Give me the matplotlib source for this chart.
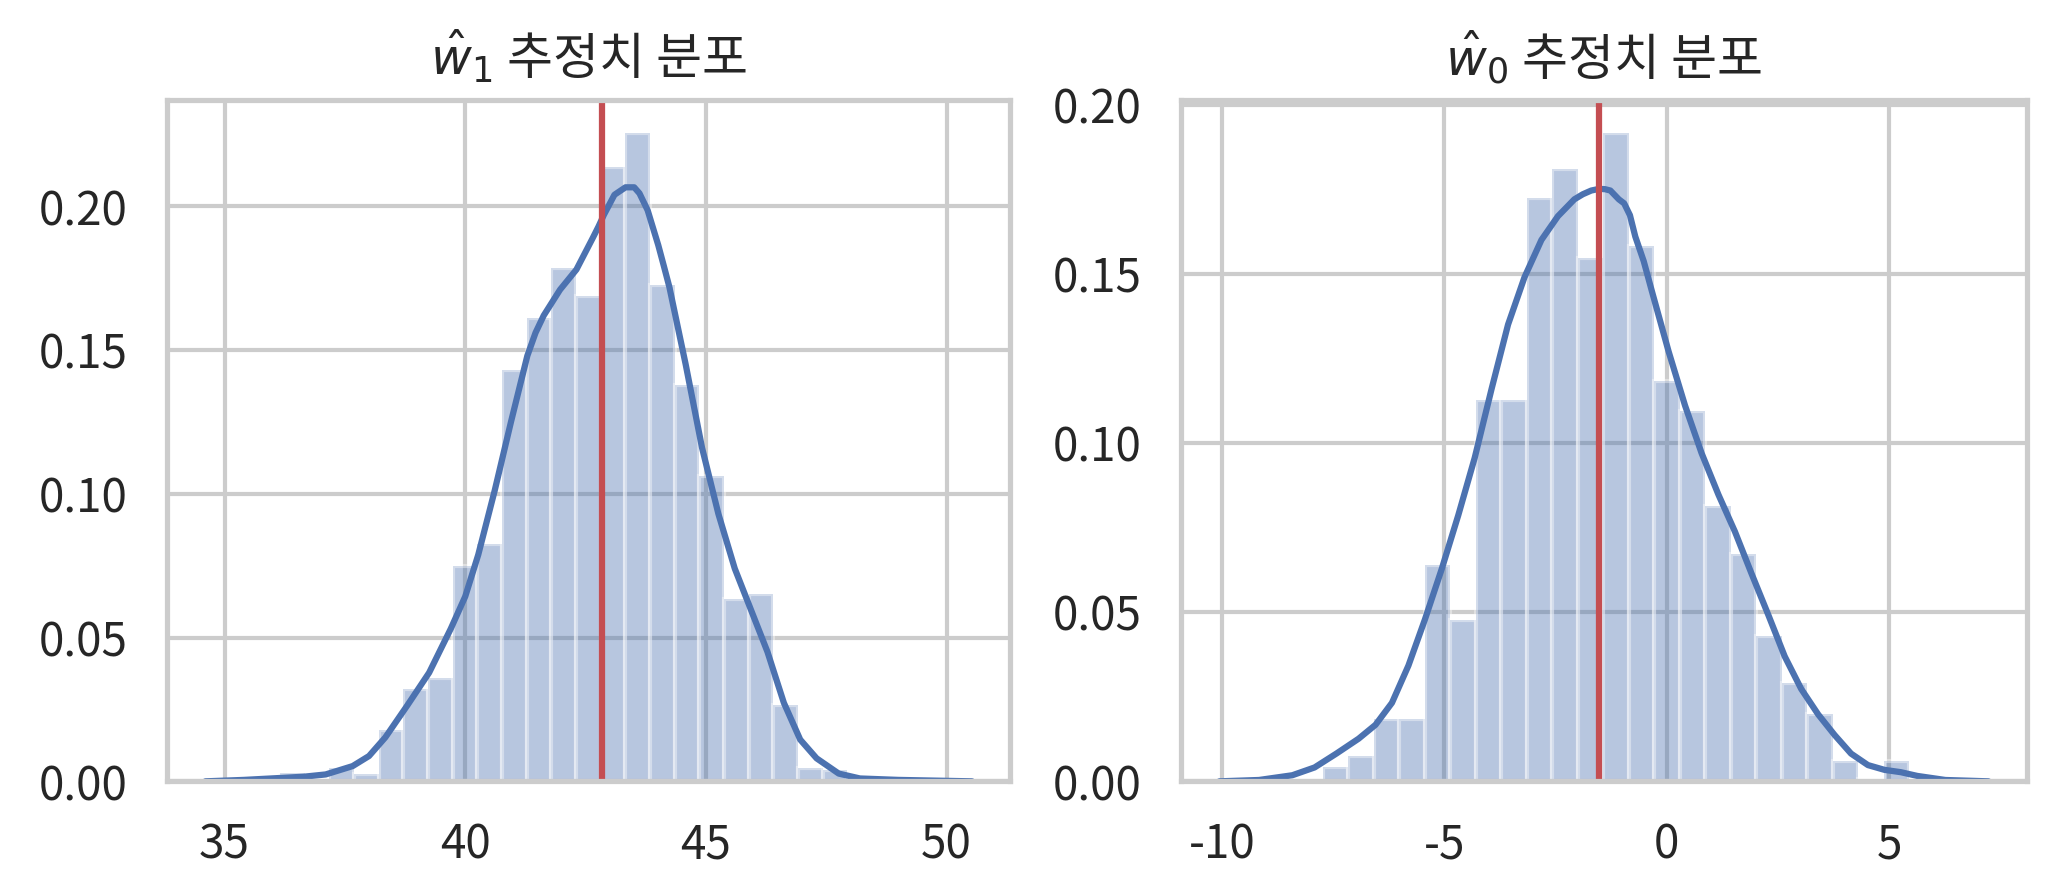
import matplotlib
matplotlib.use('Agg')
import matplotlib.pyplot as plt
import seaborn as sns
import numpy as np

sns.set_theme(style='whitegrid')
plt.rcParams['font.family'] = ['Noto Sans CJK KR', 'DejaVu Sans']
plt.rcParams['axes.unicode_minus'] = False

# w1 추정치 히스토그램 (density)
w1_bin_start = 36.15
w1_bin_width = 0.5125
w1_heights = [0.0029, 0.0, 0.0045, 0.0027, 0.018, 0.032, 0.036, 0.075, 0.0825,
              0.143, 0.161, 0.1785, 0.1687, 0.2135, 0.2256, 0.1727, 0.1378,
              0.1063, 0.0635, 0.0651, 0.0265, 0.0047, 0.004]
w1_kde_x = [34.6, 35.4, 36.64, 37.1, 37.66, 38.0, 38.34, 38.8, 39.25, 39.7, 40.0,
            40.27, 40.61, 40.95, 41.29, 41.46, 41.63, 41.97, 42.31, 42.65, 42.77,
            42.88, 43.1, 43.33, 43.51, 43.62, 43.79, 44.01, 44.13, 44.24, 44.58,
            44.92, 45.26, 45.6, 45.94, 46.28, 46.62, 46.96, 47.3, 47.76, 48.2,
            49.0, 50.53]
w1_kde_y = [0.0, 0.0005, 0.0016, 0.0024, 0.0053, 0.0088, 0.0153, 0.0265, 0.0378,
            0.0531, 0.0643, 0.0788, 0.101, 0.125, 0.148, 0.156, 0.162, 0.171,
            0.178, 0.189, 0.193, 0.197, 0.204, 0.2066, 0.2066, 0.2045, 0.1986,
            0.1865, 0.179, 0.172, 0.145, 0.116, 0.093, 0.074, 0.0595, 0.045,
            0.0273, 0.0145, 0.008, 0.0027, 0.001, 0.0005, 0.0]
w1_true = 42.85

# w0 추정치 히스토그램 (density)
w0_bin_start = -7.74
w0_bin_width = 0.5735
w0_heights = [0.0041, 0.0075, 0.0184, 0.0184, 0.0638, 0.0478, 0.1127, 0.1127,
              0.1724, 0.181, 0.1548, 0.1917, 0.1583, 0.1182, 0.1093, 0.0813,
              0.0673, 0.043, 0.029, 0.020, 0.0059, 0.0007, 0.0059]
w0_kde_x = [-10.06, -9.17, -8.42, -7.92, -7.43, -6.93, -6.55, -6.18, -5.81, -5.44,
            -5.06, -4.69, -4.32, -3.94, -3.57, -3.20, -2.82, -2.45, -2.08, -1.89,
            -1.70, -1.52, -1.39, -1.27, -1.08, -0.96, -0.83, -0.71, -0.52, -0.34,
            0.04, 0.41, 0.78, 1.16, 1.53, 1.90, 2.28, 2.65, 3.02, 3.40, 3.77,
            4.14, 4.52, 4.89, 5.26, 5.63, 6.26, 7.23]
w0_kde_y = [0.0, 0.0004, 0.0018, 0.0041, 0.0082, 0.0126, 0.0167, 0.0232, 0.0342,
            0.0478, 0.0628, 0.0786, 0.0956, 0.116, 0.135, 0.149, 0.160, 0.167,
            0.172, 0.1735, 0.1746, 0.1751, 0.175, 0.1746, 0.172, 0.1708, 0.1673,
            0.161, 0.1537, 0.145, 0.127, 0.111, 0.097, 0.0847, 0.0738, 0.0615,
            0.0492, 0.0369, 0.0273, 0.0198, 0.0137, 0.0082, 0.0048, 0.0034,
            0.0027, 0.0016, 0.0004, 0.0]
w0_true = -1.52

fig = plt.figure(figsize=(2062 / 300, 895 / 300), dpi=300)
ax1 = fig.add_axes([0.081, 0.127, 0.409, 0.761])
ax2 = fig.add_axes([0.5727, 0.127, 0.4103, 0.761])


def draw(ax, start, width, heights, kx, ky, true_val, title):
    edges = start + width * np.arange(len(heights))
    ax.bar(edges, heights, width=width, align='edge', color='#4C72B0',
           alpha=0.4, edgecolor='white', linewidth=1)
    ax.plot(kx, ky, color='#4C72B0', lw=1.5, solid_joinstyle='round')
    ax.axvline(true_val, color='#C44E52', lw=1.5)
    ax.set_title(title, fontsize=12)
    ax.tick_params(labelsize=11)


draw(ax1, w1_bin_start, w1_bin_width, w1_heights, w1_kde_x, w1_kde_y, w1_true,
     r'$\hat{w}_1$ 추정치 분포')
draw(ax2, w0_bin_start, w0_bin_width, w0_heights, w0_kde_x, w0_kde_y, w0_true,
     r'$\hat{w}_0$ 추정치 분포')
ax1.set_xticks([35, 40, 45, 50])
ax2.set_xticks([-10, -5, 0, 5])

fig.savefig('out.png', dpi=300)
